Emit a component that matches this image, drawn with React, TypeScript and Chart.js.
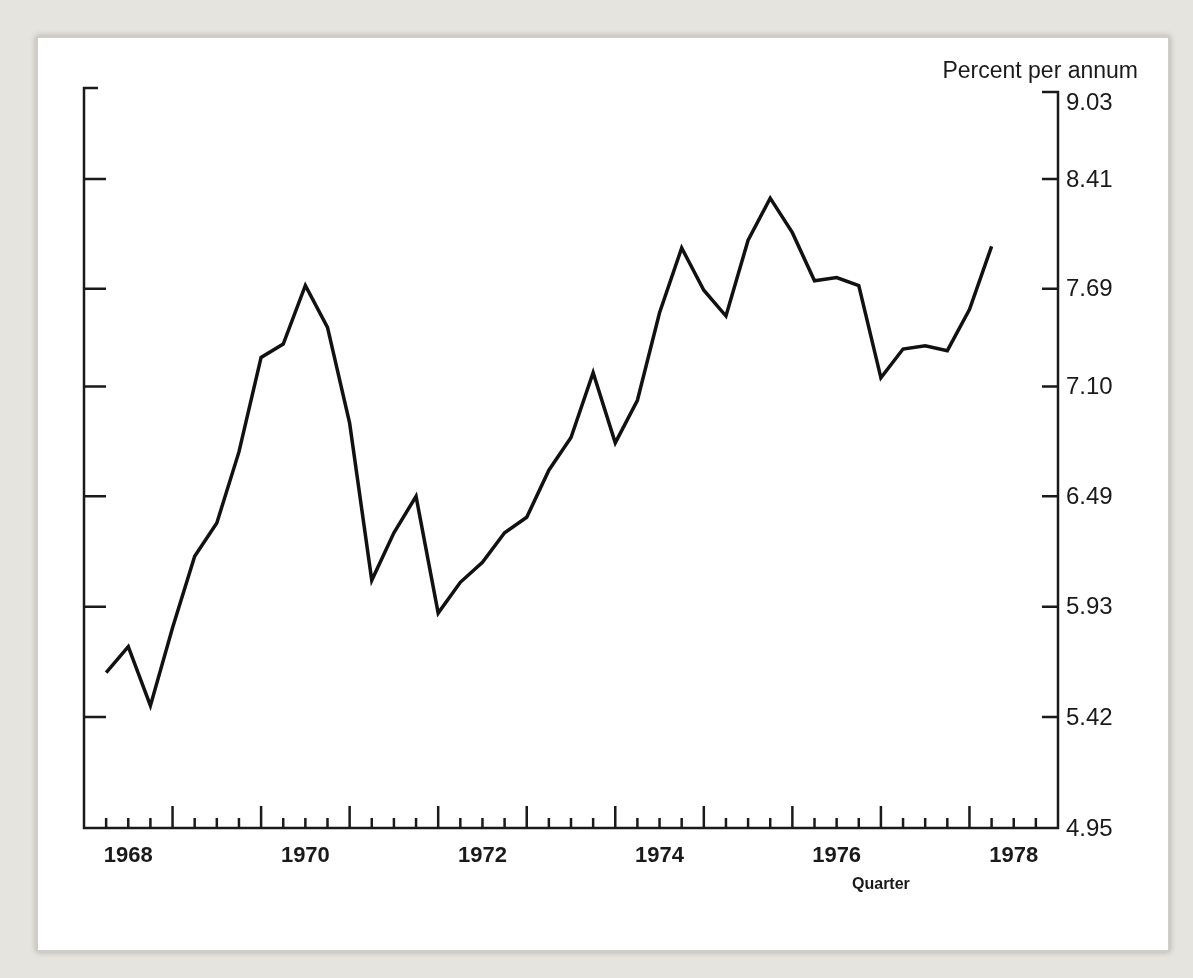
import { useEffect, useRef } from "react";
import { Chart, registerables } from "chart.js";

Chart.register(...registerables);

// quarterly observations, 1968 Q1 .. 1978 Q1 (plotted at end of quarter)
const startYear = 1968;
const rates = [
  5.62, 5.74, 5.47, 5.83, 6.18, 6.35, 6.73, 7.27, 7.35, 7.71, 7.45, 6.89,
  6.06, 6.30, 6.49, 5.90, 6.05, 6.15, 6.30, 6.38, 6.63, 6.81, 7.18, 6.78,
  7.02, 7.54, 7.95, 7.68, 7.52, 8.00, 8.28, 8.05, 7.74, 7.76, 7.71, 7.15,
  7.32, 7.34, 7.31, 7.56, 7.96,
];
const yTicks = [9.03, 8.41, 7.69, 7.1, 6.49, 5.93, 5.42, 4.95];
const yearLabels = [1968, 1970, 1972, 1974, 1976, 1978];

const points = rates.map((v, i) => ({ x: startYear + (i + 1) * 0.25, y: v }));

const axesPlugin = {
  id: "oldAxes",
  afterDraw(chart: any) {
    const { ctx, chartArea: a } = chart;
    const xs = chart.scales.x;
    const ys = chart.scales.y;
    ctx.save();
    ctx.strokeStyle = "#1a1a1a";
    ctx.fillStyle = "#1a1a1a";
    ctx.lineWidth = 2.5;
    ctx.beginPath();
    // left axis with hook
    ctx.moveTo(a.left + 14, a.top - 4);
    ctx.lineTo(a.left, a.top - 4);
    ctx.lineTo(a.left, a.bottom);
    ctx.lineTo(a.right, a.bottom);
    ctx.lineTo(a.right, a.top);
    ctx.lineTo(a.right - 16, a.top);
    ctx.stroke();

    // y ticks
    yTicks.forEach((t) => {
      const y = ys.getPixelForValue(t);
      if (t !== yTicks[0] && t !== yTicks[yTicks.length - 1]) {
        ctx.beginPath();
        ctx.moveTo(a.left, y);
        ctx.lineTo(a.left + 22, y);
        ctx.moveTo(a.right, y);
        ctx.lineTo(a.right - 16, y);
        ctx.stroke();
      }
      ctx.font = "24px 'Liberation Sans', Arial, sans-serif";
      ctx.textAlign = "left";
      ctx.textBaseline = "middle";
      ctx.fillText(t.toFixed(2), a.right + 8, t === yTicks[0] ? y + 11 : y + 1);
    });

    // x ticks every quarter
    for (let q = startYear * 4 + 1; q < (xs.max) * 4; q++) {
      const x = xs.getPixelForValue(q / 4);
      const len = q % 4 === 0 ? 22 : 10;
      ctx.beginPath();
      ctx.moveTo(x, a.bottom);
      ctx.lineTo(x, a.bottom - len);
      ctx.stroke();
    }

    ctx.font = "bold 22px 'Liberation Sans', Arial, sans-serif";
    ctx.textAlign = "center";
    ctx.textBaseline = "middle";
    yearLabels.forEach((yr) => {
      ctx.fillText(String(yr), xs.getPixelForValue(yr + 0.5), a.bottom + 28);
    });
    ctx.font = "bold 16px 'Liberation Sans', Arial, sans-serif";
    ctx.fillText("Quarter", xs.getPixelForValue(1977), a.bottom + 57);

    ctx.font = "23px 'Liberation Sans', Arial, sans-serif";
    ctx.textAlign = "right";
    ctx.fillText("Percent per annum", 1138, 72);
    ctx.restore();
  },
};

export default function App() {
  const canvasRef = useRef<HTMLCanvasElement | null>(null);

  useEffect(() => {
    if (!canvasRef.current) return;
    const chart = new Chart(canvasRef.current, {
      type: "line",
      data: {
        datasets: [
          {
            data: points,
            borderColor: "#111",
            borderWidth: 3.5,
            pointRadius: 0,
            tension: 0,
            clip: false,
          } as any,
        ],
      },
      options: {
        responsive: false,
        animation: false,
        layout: { padding: { left: 84, right: 135, top: 92, bottom: 150 } },
        scales: {
          x: { type: "linear", min: 1968, max: 1979, display: false },
          y: { type: "logarithmic", min: 4.95, max: 9.03, display: false },
        },
        plugins: { legend: { display: false }, tooltip: { enabled: false } },
      },
      plugins: [axesPlugin],
    });
    return () => chart.destroy();
  }, []);

  return (
    <div style={{ position: "fixed", left: 0, top: 0, width: 1193, height: 978, background: "#e6e4df" }}>
      <div
        style={{
          position: "absolute", left: 36, top: 36, width: 1130, height: 912,
          background: "#fff", border: "2px solid #cfcdc8",
          boxShadow: "0 0 6px rgba(0,0,0,0.25)",
        }}
      />
      <canvas ref={canvasRef} width={1193} height={978} style={{ position: "absolute", left: 0, top: 0 }} />
    </div>
  );
}
